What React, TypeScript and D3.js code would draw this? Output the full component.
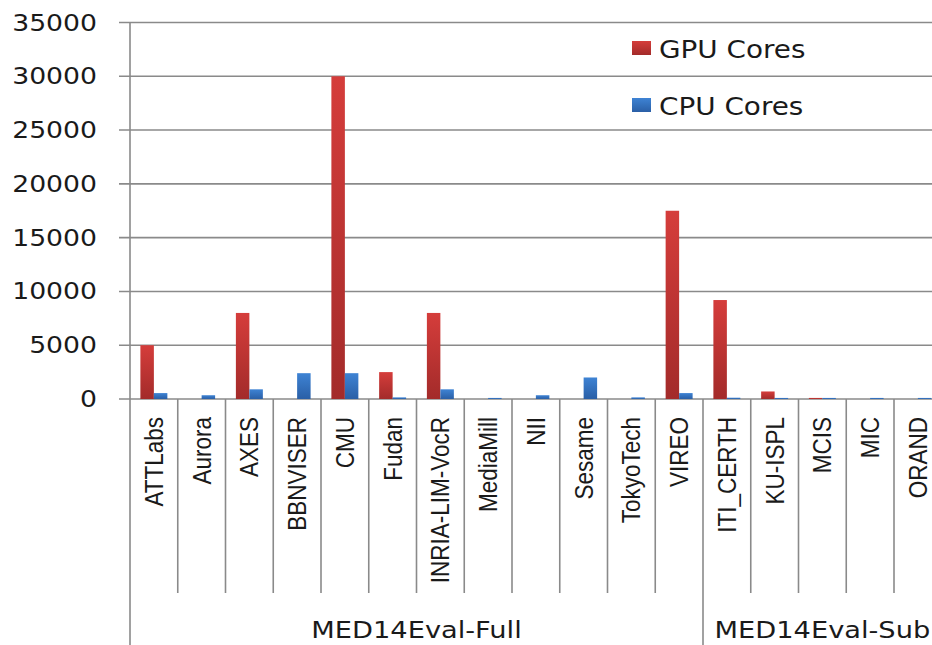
import React from "react";
import * as d3 from "d3";

const teams = [
  "ATTLabs", "Aurora", "AXES", "BBNVISER", "CMU", "Fudan", "INRIA-LIM-VocR", "MediaMill",
  "NII", "Sesame", "TokyoTech", "VIREO", "ITI_CERTH", "KU-ISPL", "MCIS", "MIC", "ORAND",
];
const gpuCores = [5000, 0, 8000, 0, 30000, 2500, 8000, 0, 0, 0, 0, 17500, 9200, 700, 100, 0, 0];
const cpuCores = [550, 350, 900, 2400, 2400, 150, 900, 100, 350, 2000, 150, 550, 120, 100, 100, 100, 100];
const seriesNames = ["GPU Cores", "CPU Cores"];
const groups = [
  { name: "MED14Eval-Full", first: "ATTLabs", last: "VIREO" },
  { name: "MED14Eval-Sub", first: "ITI_CERTH", last: "ORAND" },
];
const yTicks = [0, 5000, 10000, 15000, 20000, 25000, 30000, 35000];

const W = 932;
const H = 645;
const STRETCH = 1.16; // reference looks squeezed vertically

export default function App() {
  const x0 = d3.scaleBand<string>().domain(teams).range([130, 130 + 17 * 47.75]).padding(0);
  const x1 = d3.scaleBand<string>().domain(seriesNames).range([0, x0.bandwidth()])
    .paddingInner(0).paddingOuter(0.77);
  const y = d3.scaleLinear().domain([0, 35000]).range([399, 22.5]);
  const colors = ["url(#gpuGrad)", "url(#cpuGrad)"];
  const values = [gpuCores, cpuCores];
  const grid = "#8a8a8a";
  const axisBottom = 593;

  return (
    <svg width={W} height={H} style={{ position: "absolute", left: 0, top: 0, background: "#fff" }}
      fontFamily="DejaVu Sans">
      <defs>
        <linearGradient id="gpuGrad" x1="0" y1="0" x2="0" y2="1">
          <stop offset="0%" stopColor="#d53d3b" />
          <stop offset="100%" stopColor="#a32b2a" />
        </linearGradient>
        <linearGradient id="cpuGrad" x1="0" y1="0" x2="0" y2="1">
          <stop offset="0%" stopColor="#3e83d4" />
          <stop offset="100%" stopColor="#2a5fa6" />
        </linearGradient>
      </defs>

      {/* gridlines + y labels */}
      {yTicks.map((t) => (
        <g key={t}>
          <line x1={119} x2={W} y1={y(t)} y2={y(t)} stroke={grid} strokeWidth={1.6} />
          <text transform={`translate(97,${y(t) + 8}) scale(${STRETCH},1)`} textAnchor="end"
            fontSize={23} fill="#1a1a1a">{t}</text>
        </g>
      ))}

      {/* y axis line */}
      <line x1={130} x2={130} y1={y(35000)} y2={H} stroke={grid} strokeWidth={1.6} />

      {/* category separators */}
      {teams.slice(1).map((t) => (
        <line key={t} x1={x0(t)!} x2={x0(t)!} y1={y(0)} y2={axisBottom} stroke={grid} strokeWidth={1.6} />
      ))}
      {groups.slice(1).map((g) => (
        <line key={g.name} x1={x0(g.first)!} x2={x0(g.first)!} y1={axisBottom} y2={H}
          stroke={grid} strokeWidth={1.6} />
      ))}

      {/* bars */}
      {teams.map((t, i) => (
        <g key={t} transform={`translate(${x0(t)},0)`}>
          {seriesNames.map((s, j) => {
            const v = values[j][i];
            if (!v) return null;
            return (
              <rect key={s} x={x1(s)!} width={x1.bandwidth()} y={y(v)} height={y(0) - y(v)}
                fill={colors[j]} />
            );
          })}
        </g>
      ))}

      {/* category labels */}
      {teams.map((t) => (
        <text key={t}
          transform={`translate(${x0(t)! + x0.bandwidth() / 2 + 9},417) rotate(-90) scale(1,${STRETCH})`}
          textAnchor="end" fontFamily="Liberation Sans" fontSize={22.5} fill="#1a1a1a">{t}</text>
      ))}

      {/* group labels */}
      {groups.map((g) => {
        const cx = (x0(g.first)! + x0(g.last)! + x0.bandwidth()) / 2;
        return (
          <text key={g.name} transform={`translate(${cx},638) scale(${STRETCH},1)`} textAnchor="middle"
            fontSize={23.5} fill="#1a1a1a">{g.name}</text>
        );
      })}

      {/* legend */}
      {seriesNames.map((s, j) => (
        <g key={s} transform={`translate(632,${41 + j * 57})`}>
          <rect width={19} height={14} fill={colors[j]} />
          <text transform={`translate(27,17) scale(${STRETCH},1)`} fontSize={24} fill="#1a1a1a">{s}</text>
        </g>
      ))}
    </svg>
  );
}
